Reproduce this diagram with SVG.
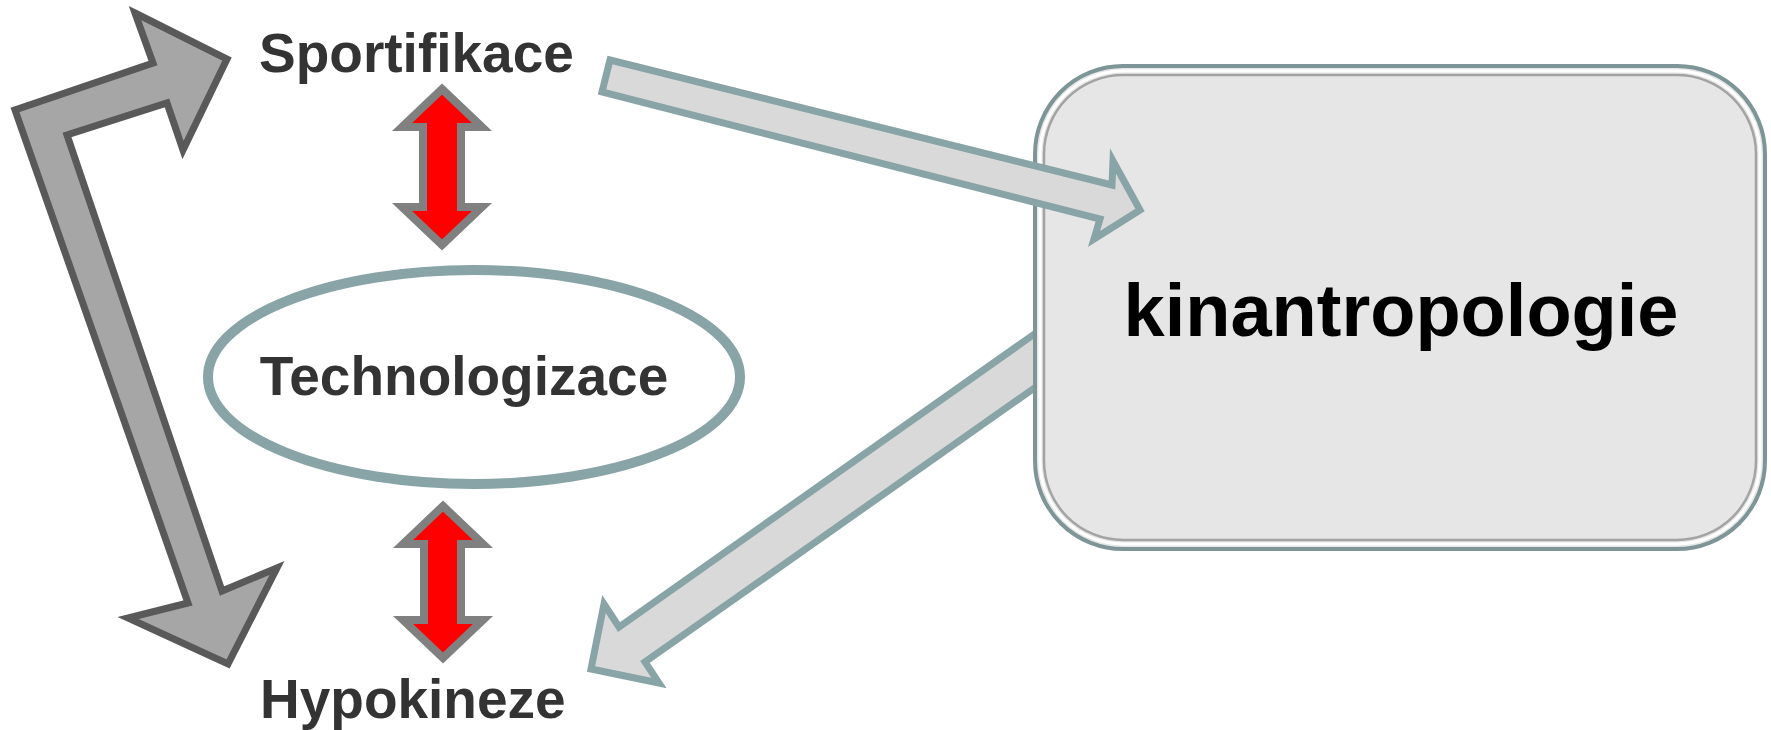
<svg xmlns="http://www.w3.org/2000/svg" width="1771" height="730" viewBox="0 0 1771 730">
  <style>
    .lbl { font-family: "Liberation Sans", Arial, sans-serif; font-weight: bold; fill: #333333; }
    .big { font-family: "Liberation Sans", Arial, sans-serif; font-weight: bold; fill: #000000; }
    .tealArrow { fill: #d9d9d9; stroke: #88a4a7; stroke-width: 7; stroke-linejoin: miter; }
    .redArrow { fill: #ff0000; stroke: #808080; stroke-width: 8; stroke-linejoin: miter; }
    .grayArrow { fill: #a6a6a6; stroke: #595959; stroke-width: 7; stroke-linejoin: miter; }
  </style>
  <rect width="1771" height="730" fill="#ffffff"/>

  <g id="connectors">
    <polygon id="arrow-kin-hypo" class="tealArrow" points="1060,316 619,627 604,604 591,669 659,683 645,662 1060,370"/>
  </g>

  <g id="node-kinantropologie">
    <rect x="1035" y="66" width="730" height="483" rx="88" fill="#e6e6e6" stroke="#7d9597" stroke-width="4"/>
    <rect x="1040" y="71" width="720" height="473" rx="83" fill="none" stroke="#ffffff" stroke-width="3"/>
    <rect x="1044" y="75" width="712" height="465" rx="79" fill="none" stroke="#8c8c8c" stroke-width="2.5" opacity="0.75"/>
    <text class="big" x="1401" y="336" font-size="74" text-anchor="middle">kinantropologie</text>
  </g>

  <g id="connectors-2">
    <polygon id="arrow-sport-kin" class="tealArrow" points="610,60 1112,185 1113,161 1140,210 1094,239 1100,219 602,92"/>
    <polygon id="arrow-hypo-sport" class="grayArrow" points="135,13 227,59 183,150 167,103 67,135 222,591 277,568 228,664 128,618 188,603 15,110 153,63"/>
    <polygon id="arrow-sport-tech" class="redArrow" points="442,89 482,127 461,127 461,207 482,207 442,245 402,207 423,207 423,127 402,127"/>
    <polygon id="arrow-tech-hypo" class="redArrow" points="443,506 483,544 461,544 461,620 483,620 443,658 403,620 424,620 424,544 403,544"/>
  </g>

  <g id="node-sportifikace">
    <text class="lbl" x="259" y="72" font-size="55">Sportifikace</text>
  </g>

  <g id="node-technologizace">
    <ellipse cx="474" cy="377" rx="266" ry="107" fill="none" stroke="#88a4a7" stroke-width="10"/>
    <text class="lbl" x="464" y="395" font-size="55" text-anchor="middle">Technologizace</text>
  </g>

  <g id="node-hypokineze">
    <text class="lbl" x="260" y="718" font-size="55">Hypokineze</text>
  </g>
</svg>
